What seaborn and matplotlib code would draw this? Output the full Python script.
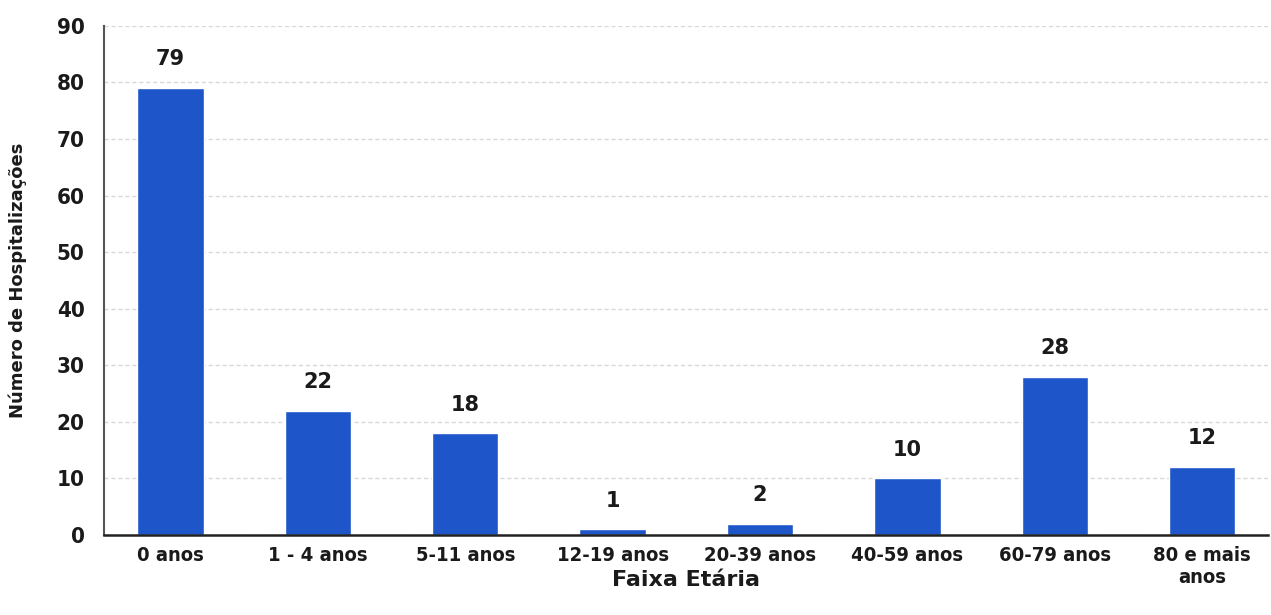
import matplotlib
matplotlib.use("Agg")
import matplotlib.pyplot as plt
import seaborn as sns
import pandas as pd

# Data
faixas = ["0 anos", "1 - 4 anos", "5-11 anos", "12-19 anos", "20-39 anos",
          "40-59 anos", "60-79 anos", "80 e mais\nanos"]
hospitalizacoes = [79, 22, 18, 1, 2, 10, 28, 12]
yticks = [0, 10, 20, 30, 40, 50, 60, 70, 80, 90]

df = pd.DataFrame({"faixa": faixas, "n": hospitalizacoes})

sns.set_theme(style="white")
plt.rcParams["font.family"] = ["DejaVu Sans"]

fig = plt.figure(figsize=(12.71, 6.15), dpi=100)
ax = fig.add_axes([0.082, 0.130, 0.916, 0.828])

sns.barplot(data=df, x="faixa", y="n", color="#1e56c9", saturation=1,
            width=0.45, ax=ax)

# value labels above bars
for patch, val in zip(ax.patches, hospitalizacoes):
    ax.text(patch.get_x() + patch.get_width() / 2, val + 3.3, str(val),
            ha="center", va="bottom", fontsize=15, fontweight="bold",
            color="#1a1a1a")

ax.set_ylim(0, 90)
ax.set_xlim(-0.45, 7.45)
ax.set_yticks(yticks)
ax.yaxis.grid(True, linestyle=(0, (3, 2)), color="#d8d8d8", linewidth=1)
ax.set_axisbelow(True)

for side in ["top", "right"]:
    ax.spines[side].set_visible(False)
ax.spines["left"].set_color("#555555")
ax.spines["left"].set_linewidth(1.5)
ax.spines["bottom"].set_color("#222222")
ax.spines["bottom"].set_linewidth(1.8)

ax.tick_params(axis="x", length=0, pad=8)
ax.tick_params(axis="y", length=0, pad=14)
for lab in ax.get_xticklabels() + ax.get_yticklabels():
    lab.set_fontweight("bold")
    lab.set_fontstretch("condensed")
    lab.set_color("#1a1a1a")
for lab in ax.get_xticklabels():
    lab.set_fontsize(14.5)
    lab.set_linespacing(1.2)
for lab in ax.get_yticklabels():
    lab.set_fontsize(16)

ax.set_xlabel("Faixa Etária", fontsize=16, fontweight="bold", color="#1a1a1a")
ax.xaxis.set_label_coords(0.5, -0.068)
ax.set_ylabel("Número de Hospitalizações", fontsize=13, fontweight="bold",
              color="#1a1a1a")
ax.yaxis.set_label_coords(-0.066, 0.5)

fig.savefig("out.png", dpi=100, facecolor="white")
